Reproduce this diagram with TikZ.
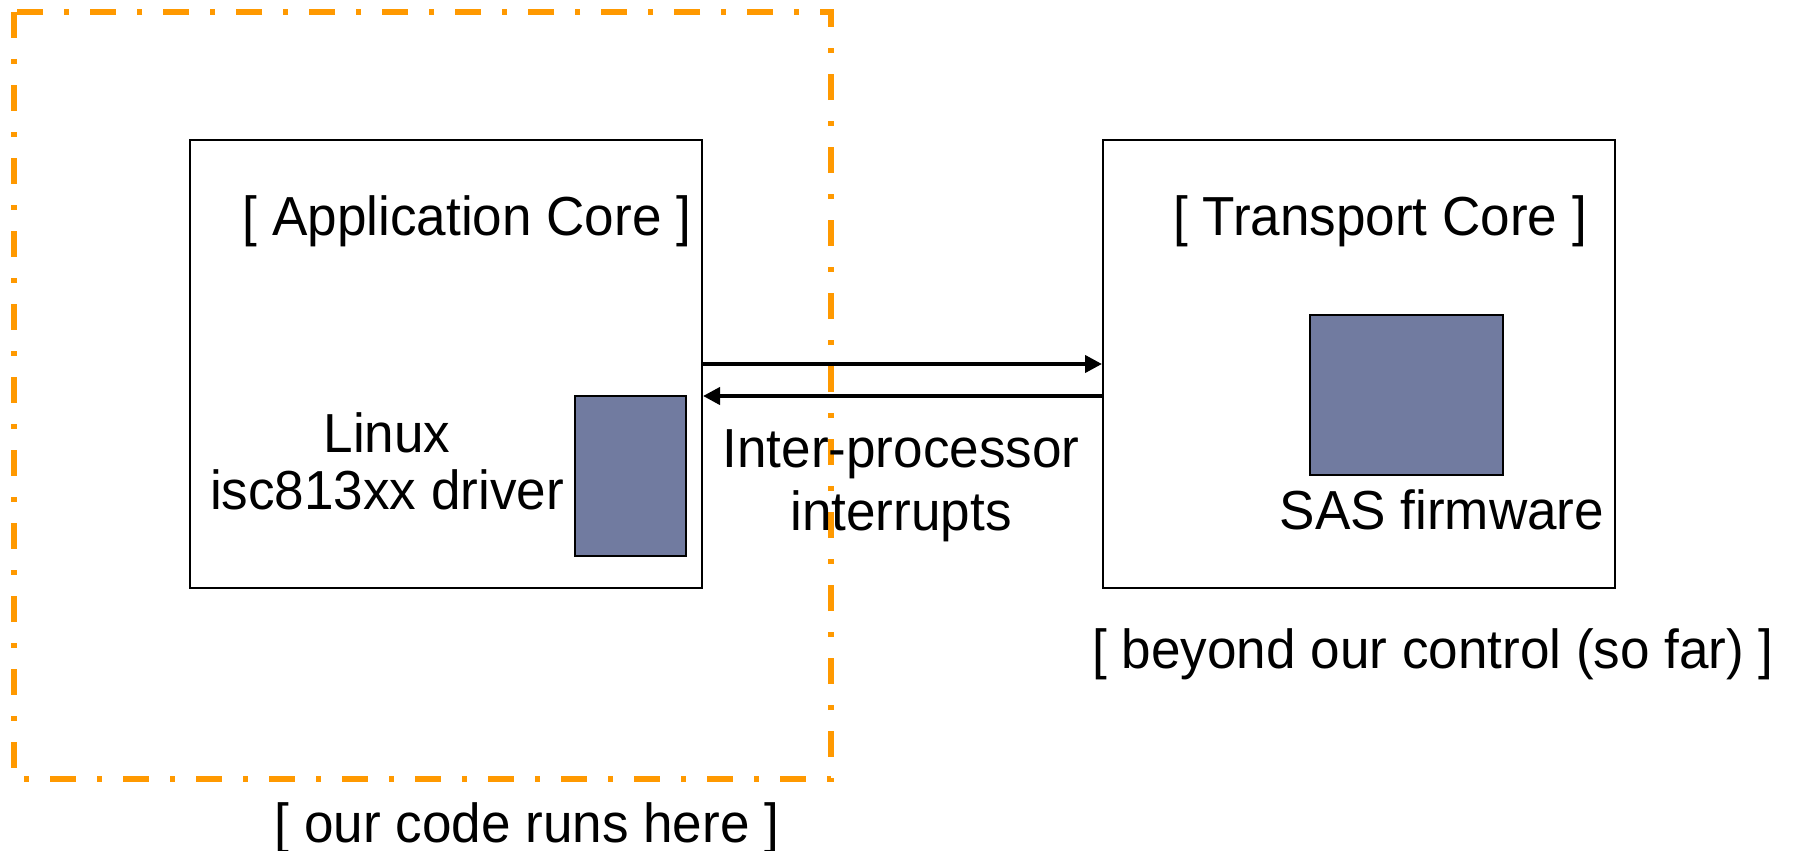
\documentclass[tikz,border=0pt]{standalone}
\usepackage{fontspec}
\setmainfont{Liberation Sans}[FakeStretch=0.965]
\usetikzlibrary{arrows.meta}
\definecolor{zoneorange}{RGB}{255,153,0}
\definecolor{chipblue}{RGB}{113,123,160}
\begin{document}
\begin{tikzpicture}[x=1pt,y=-1pt,
  core/.style={draw=black,line width=2pt,minimum width=512pt,minimum height=448pt,inner sep=0pt},
  chip/.style={draw=black,line width=2pt,fill=chipblue,inner sep=0pt},
  label/.style={font=\fontsize{55}{57}\selectfont,inner sep=0pt,align=center},
  ipi/.style={line width=4pt,-{Triangle[length=17pt,width=17pt]}},
  zone/.style={draw=zoneorange,line width=6pt,dash pattern=on 26pt off 21pt on 5pt off 21pt}]
\useasboundingbox (0,0) rectangle (1796,851);

% region where our code runs
\draw[zone] (14,12) rectangle (831,779);

% the two processor cores
\node[core] (app) at (446,364) {};
\node[core] (tc) at (1359,364) {};

\node[label] (apptitle) at (467,221) {[ Application Core ]};
\node[label] (tctitle) at (1380,221) {[ Transport Core ]};

% driver and firmware blocks
\node[chip,minimum width=111pt,minimum height=160pt] (drv) at (630.5,476) {};
\node[label] (drvtext) at (387,461) {Linux\\isc813xx driver};

\node[chip,minimum width=193pt,minimum height=160pt] (fw) at (1406.5,395) {};
\node[label] (fwtext) at (1442,510) {SAS firmware};

% inter-processor interrupts
\draw[ipi] (app.east) -- (tc.west);
\draw[ipi] ([yshift=-32pt]tc.west) -- ([yshift=-32pt]app.east);
\node[label,font=\fontsize{55}{63}\selectfont] (ipitext) at (901,486) {Inter-processor\\interrupts};

% captions
\node[label] (beyond) at (1433,654) {[ beyond our control (so far) ]};
\node[label] (ours) at (527,828) {[ our code runs here ]};
\end{tikzpicture}
\end{document}
